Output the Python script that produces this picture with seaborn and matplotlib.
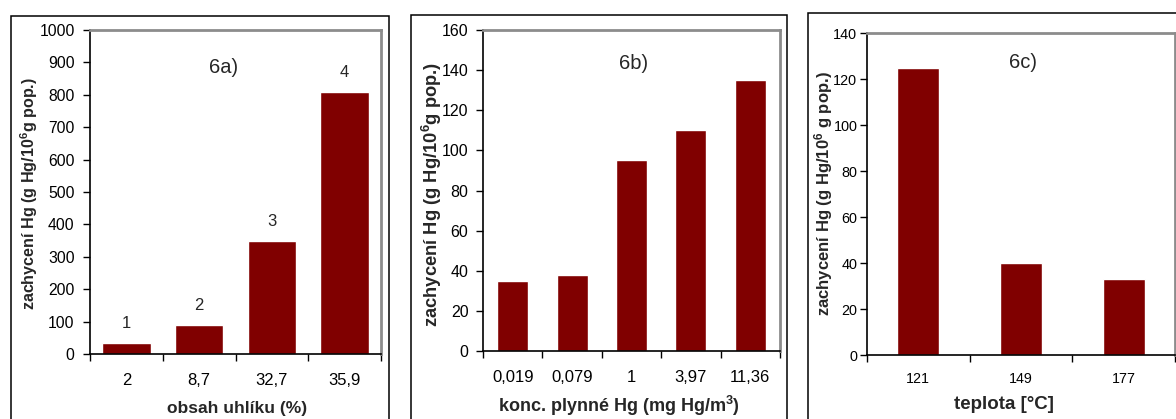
import matplotlib
matplotlib.use("Agg")
import matplotlib.pyplot as plt
import matplotlib.patches as mpatches
import seaborn as sns
import pandas as pd

sns.set_theme(style="white")
plt.rcParams["font.family"] = ["Liberation Sans", "DejaVu Sans"]
plt.rcParams["mathtext.fontset"] = "custom"
plt.rcParams["mathtext.rm"] = "Liberation Sans:bold"
plt.rcParams["mathtext.default"] = "rm"

# Panel 6a: carbon content
carbon_labels = ["2", "8,7", "32,7", "35,9"]
carbon_values = [35, 90, 350, 810]
carbon_ids = ["1", "2", "3", "4"]

# Panel 6b: gaseous Hg concentration
conc_labels = ["0,019", "0,079", "1", "3,97", "11,36"]
conc_values = [35, 38, 95, 110, 135]

# Panel 6c: temperature
temp_labels = ["121", "149", "177"]
temp_values = [125, 40, 33]

BAR = "#800000"
W, H = 1176, 419

fig = plt.figure(figsize=(W / 100, H / 100), dpi=100)


def px_axes(left, top, right, bottom):
    return fig.add_axes([left / W, 1 - bottom / H, (right - left) / W, (bottom - top) / H])


def fig_text(x, y, s, **kw):
    fig.text(x / W, 1 - y / H, s, ha="center", va="center", **kw)


def outer_frame(x0, y0, x1, y1):
    fig.patches.append(mpatches.Rectangle((x0 / W, 1 - y1 / H), (x1 - x0) / W, (y1 - y0) / H,
                                          transform=fig.transFigure, fill=False,
                                          edgecolor="black", linewidth=1.1, zorder=0))


def panel(ax, labels, values, width, ymax, ystep, tag, tag_xy,
          xtick_fs, ytick_fs, xpad, ypad):
    df = pd.DataFrame({"x": labels, "y": values})
    sns.barplot(data=df, x="x", y="y", ax=ax, color=BAR, width=width, saturation=1,
                order=labels)
    n = len(labels)
    ax.set_xlim(-0.5, n - 0.5)
    ax.set_ylim(0, ymax)
    ax.set_yticks(range(0, ymax + 1, ystep))
    ax.set_xticks(range(n))
    ax.set_xticklabels(labels, fontsize=xtick_fs)
    ax.set_xticks([i - 0.5 for i in range(n + 1)], minor=True)
    ax.tick_params(axis="x", which="major", length=0, pad=xpad, bottom=True)
    ax.tick_params(axis="x", which="minor", length=5, width=1, color="black",
                   direction="out", bottom=True)
    ax.tick_params(axis="y", which="major", length=5, width=1, color="black",
                   direction="out", labelsize=ytick_fs, pad=ypad, left=True)
    for s in ("left", "bottom"):
        ax.spines[s].set_color("black")
        ax.spines[s].set_linewidth(1.2)
    for s in ("top", "right"):
        ax.spines[s].set_color("#8c8c8c")
        ax.spines[s].set_linewidth(2)
        ax.spines[s].set_visible(True)
    ax.set_xlabel("")
    ax.set_ylabel("")
    ax.text(tag_xy[0], tag_xy[1], tag, fontsize=14.5, ha="center", va="center",
            transform=ax.transAxes)
    for lab in ax.get_xticklabels() + ax.get_yticklabels():
        lab.set_color("black")


outer_frame(11, 16, 389, 440)
outer_frame(411, 15, 787, 440)
outer_frame(808, 13, 1200, 440)

# 6a
ax_a = px_axes(90, 30, 381, 354)
panel(ax_a, carbon_labels, carbon_values, 0.67, 1000, 100, "6a)", (0.46, 0.885),
      xtick_fs=12, ytick_fs=11.3, xpad=14, ypad=6)
for i, (v, t) in enumerate(zip(carbon_values, carbon_ids)):
    ax_a.annotate(t, (i, v), xytext=(0, 14), textcoords="offset points",
                  ha="center", va="center", fontsize=12)
fig_text(29, 194, "zachycení Hg (g Hg/10$^6$g pop.)", rotation=90,
         fontsize=11.6, fontweight="bold")
fig_text(237, 408, "obsah uhlíku (%)", fontsize=12.5, fontweight="bold")

# 6b
ax_b = px_axes(483, 30, 780, 351)
panel(ax_b, conc_labels, conc_values, 0.52, 160, 20, "6b)", (0.508, 0.897),
      xtick_fs=12, ytick_fs=11.5, xpad=14, ypad=5.5)
fig_text(432, 194, "zachycení Hg (g Hg/10$^6$g pop.)", rotation=90,
         fontsize=13.2, fontweight="bold")
fig_text(619, 406, "konc. plynné Hg (mg Hg/m$^3$)", fontsize=13, fontweight="bold")

# 6c
ax_c = px_axes(867, 33, 1175, 355)
panel(ax_c, temp_labels, temp_values, 0.41, 140, 20, "6c)", (0.506, 0.907),
      xtick_fs=10.3, ytick_fs=10.4, xpad=12, ypad=2)
fig_text(824, 194, "zachycení Hg (g Hg/10$^6$ g pop.)", rotation=90,
         fontsize=12, fontweight="bold")
fig_text(1004, 404, "teplota [°C]", fontsize=13.5, fontweight="bold")

fig.savefig("out.png", dpi=100)
